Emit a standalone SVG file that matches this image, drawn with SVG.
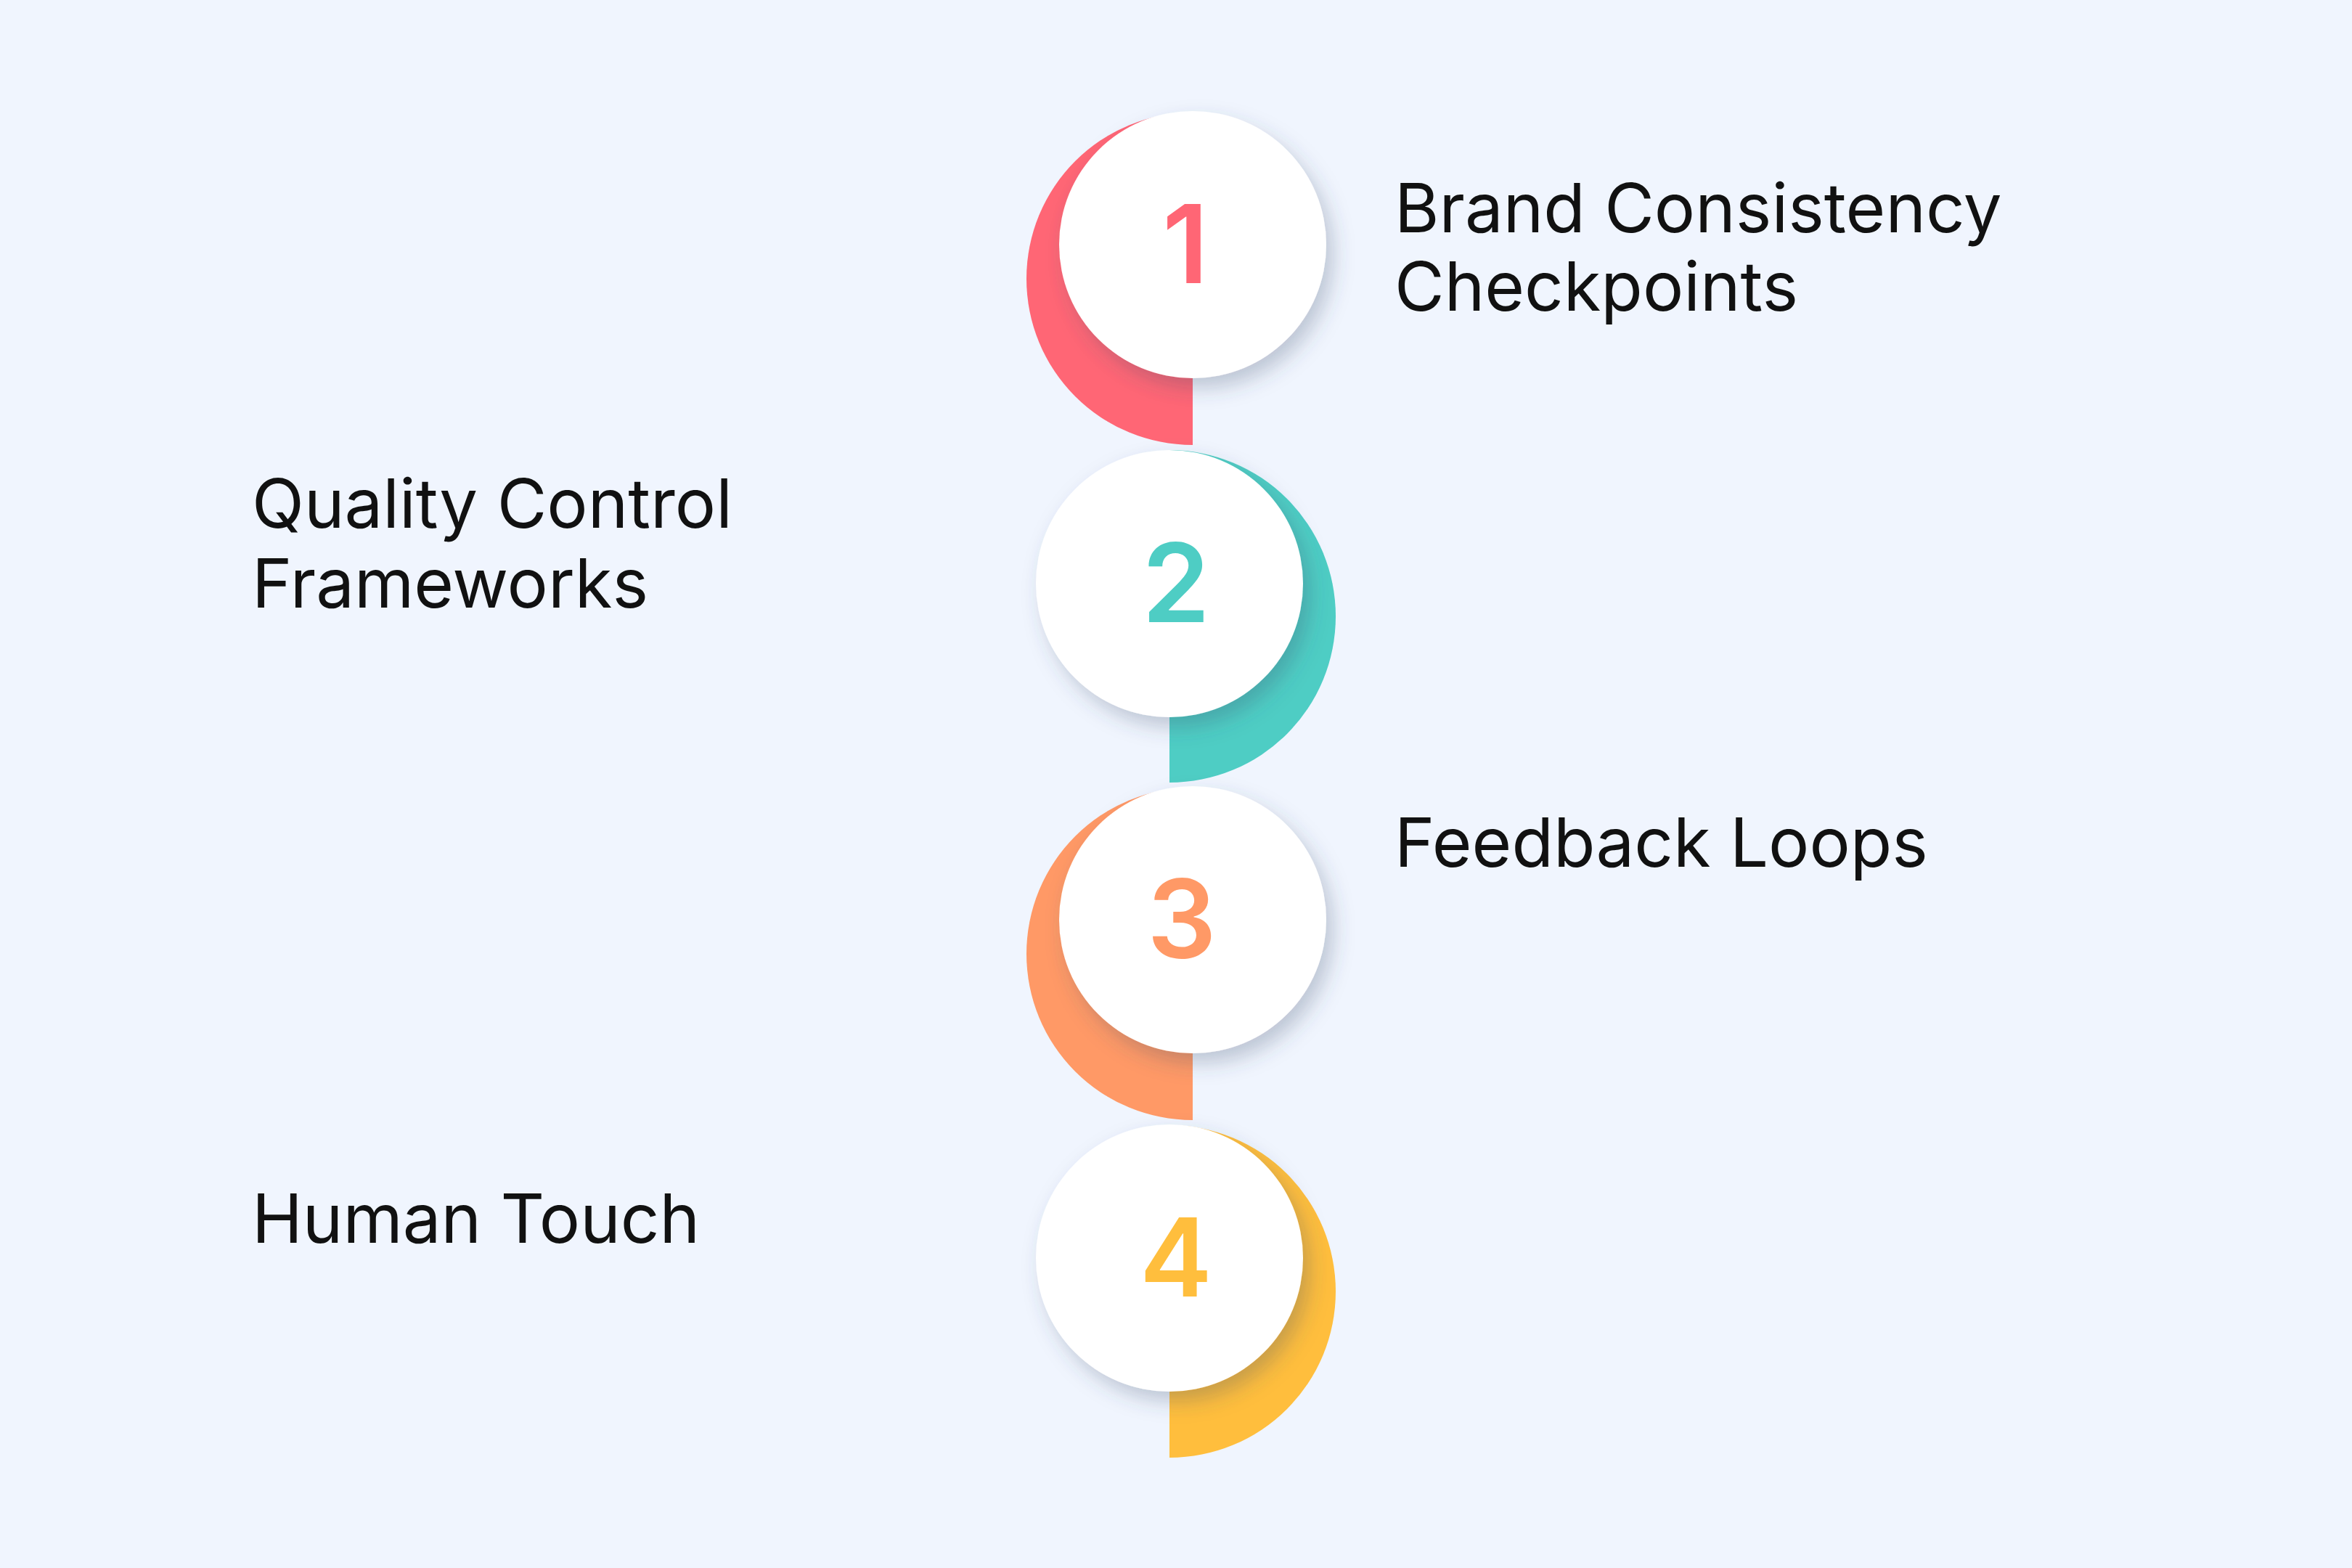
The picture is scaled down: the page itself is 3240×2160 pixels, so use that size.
<svg xmlns="http://www.w3.org/2000/svg" width="3240" height="2160" viewBox="0 0 3240 2160">
<defs>
<filter id="sh" x="-30%" y="-30%" width="160%" height="160%">
<feDropShadow dx="10" dy="14" stdDeviation="14" flood-color="#3a4a6a" flood-opacity="0.28"/>
</filter>
<style>
.w{fill:#fff;filter:url(#sh)}
.num{font-family:Inter,"Liberation Sans",sans-serif;font-weight:600;font-size:150px;text-anchor:middle}
.lbl{font-family:Inter,"Liberation Sans",sans-serif;font-size:94px;fill:#111}
</style>
</defs>
<rect width="3240" height="2160" fill="#F0F5FE"/>
<g id="step1">
<path d="M1643 155 A229 229 0 0 0 1643 613 Z" fill="#FF6675"/>
<circle class="w" cx="1643" cy="337" r="184"/>
<text class="num" x="1633" y="390" fill="#FF6675">1</text>
<text class="lbl" x="1921" y="320">Brand Consistency</text>
<text class="lbl" x="1921" y="428">Checkpoints</text>
</g>
<g id="step2">
<path d="M1611 620 A229 229 0 0 1 1611 1078 Z" fill="#4ECDC4"/>
<circle class="w" cx="1611" cy="804" r="184"/>
<text class="num" x="1620" y="857" fill="#4ECDC4">2</text>
<text class="lbl" x="347" y="727">Quality Control</text>
<text class="lbl" x="347" y="837">Frameworks</text>
</g>
<g id="step3">
<path d="M1643 1085 A229 229 0 0 0 1643 1543 Z" fill="#FF9966"/>
<circle class="w" cx="1643" cy="1267" r="184"/>
<text class="num" x="1628" y="1320" fill="#FF9966">3</text>
<text class="lbl" x="1921" y="1194">Feedback Loops</text>
</g>
<g id="step4">
<path d="M1611 1550 A229 229 0 0 1 1611 2008 Z" fill="#FFBE3D"/>
<circle class="w" cx="1611" cy="1733" r="184"/>
<text class="num" x="1620" y="1786" fill="#FFBE3D">4</text>
<text class="lbl" x="347" y="1712">Human Touch</text>
</g>
<g id="connectors"/>
</svg>
